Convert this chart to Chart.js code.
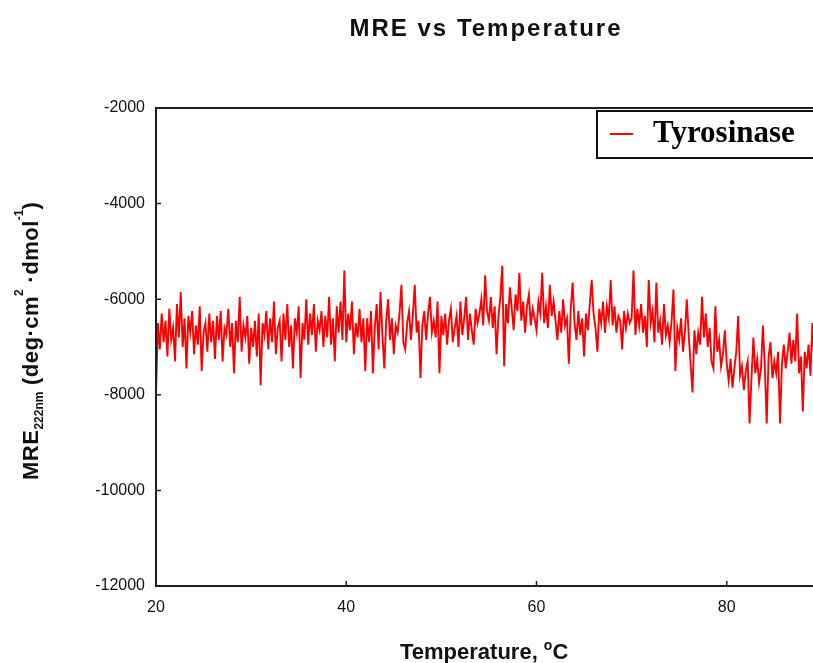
<!DOCTYPE html>
<html>
<head>
<meta charset="utf-8">
<title>MRE vs Temperature</title>
<script src="https://cdn.jsdelivr.net/npm/chart.js@4.4.1/dist/chart.umd.min.js"></script>
<style>
    html, body { margin: 0; padding: 0; background: #fff; overflow: hidden; }
    #wrap { width: 813px; height: 663px; overflow: hidden; }
</style>
</head>
<body>
<div id="wrap"><canvas id="chartMre" width="975" height="663"></canvas></div>
<script>
// Temperature scan, degrees C
var temperatures = [
    20, 20.2, 20.4, 20.6, 20.8, 21, 21.2, 21.4, 21.6, 21.8,
    22, 22.2, 22.4, 22.6, 22.8, 23, 23.2, 23.4, 23.6, 23.8,
    24, 24.2, 24.4, 24.6, 24.8, 25, 25.2, 25.4, 25.6, 25.8,
    26, 26.2, 26.4, 26.6, 26.8, 27, 27.2, 27.4, 27.6, 27.8,
    28, 28.2, 28.4, 28.6, 28.8, 29, 29.2, 29.4, 29.6, 29.8,
    30, 30.2, 30.4, 30.6, 30.8, 31, 31.2, 31.4, 31.6, 31.8,
    32, 32.2, 32.4, 32.6, 32.8, 33, 33.2, 33.4, 33.6, 33.8,
    34, 34.2, 34.4, 34.6, 34.8, 35, 35.2, 35.4, 35.6, 35.8,
    36, 36.2, 36.4, 36.6, 36.8, 37, 37.2, 37.4, 37.6, 37.8,
    38, 38.2, 38.4, 38.6, 38.8, 39, 39.2, 39.4, 39.6, 39.8,
    40, 40.2, 40.4, 40.6, 40.8, 41, 41.2, 41.4, 41.6, 41.8,
    42, 42.2, 42.4, 42.6, 42.8, 43, 43.2, 43.4, 43.6, 43.8,
    44, 44.2, 44.4, 44.6, 44.8, 45, 45.2, 45.4, 45.6, 45.8,
    46, 46.2, 46.4, 46.6, 46.8, 47, 47.2, 47.4, 47.6, 47.8,
    48, 48.2, 48.4, 48.6, 48.8, 49, 49.2, 49.4, 49.6, 49.8,
    50, 50.2, 50.4, 50.6, 50.8, 51, 51.2, 51.4, 51.6, 51.8,
    52, 52.2, 52.4, 52.6, 52.8, 53, 53.2, 53.4, 53.6, 53.8,
    54, 54.2, 54.4, 54.6, 54.8, 55, 55.2, 55.4, 55.6, 55.8,
    56, 56.2, 56.4, 56.6, 56.8, 57, 57.2, 57.4, 57.6, 57.8,
    58, 58.2, 58.4, 58.6, 58.8, 59, 59.2, 59.4, 59.6, 59.8,
    60, 60.2, 60.4, 60.6, 60.8, 61, 61.2, 61.4, 61.6, 61.8,
    62, 62.2, 62.4, 62.6, 62.8, 63, 63.2, 63.4, 63.6, 63.8,
    64, 64.2, 64.4, 64.6, 64.8, 65, 65.2, 65.4, 65.6, 65.8,
    66, 66.2, 66.4, 66.6, 66.8, 67, 67.2, 67.4, 67.6, 67.8,
    68, 68.2, 68.4, 68.6, 68.8, 69, 69.2, 69.4, 69.6, 69.8,
    70, 70.2, 70.4, 70.6, 70.8, 71, 71.2, 71.4, 71.6, 71.8,
    72, 72.2, 72.4, 72.6, 72.8, 73, 73.2, 73.4, 73.6, 73.8,
    74, 74.2, 74.4, 74.6, 74.8, 75, 75.2, 75.4, 75.6, 75.8,
    76, 76.2, 76.4, 76.6, 76.8, 77, 77.2, 77.4, 77.6, 77.8,
    78, 78.2, 78.4, 78.6, 78.8, 79, 79.2, 79.4, 79.6, 79.8,
    80, 80.2, 80.4, 80.6, 80.8, 81, 81.2, 81.4, 81.6, 81.8,
    82, 82.2, 82.4, 82.6, 82.8, 83, 83.2, 83.4, 83.6, 83.8,
    84, 84.2, 84.4, 84.6, 84.8, 85, 85.2, 85.4, 85.6, 85.8,
    86, 86.2, 86.4, 86.6, 86.8, 87, 87.2, 87.4, 87.6, 87.8,
    88, 88.2, 88.4, 88.6, 88.8, 89, 89.2, 89.4, 89.6, 89.8,
    90
];

// MRE at 222 nm (deg cm2 dmol-1)
var mreTyrosinase = [
    -7990, -6500, -7050, -6300, -6900, -6450, -7200, -6200, -6850, -6600,
    -7300, -6100, -6800, -5850, -7000, -6400, -7450, -6350, -6700, -6250,
    -7150, -6550, -6950, -6150, -7500, -6700, -6500, -7100, -6300, -6900,
    -6450, -7250, -6350, -6850, -6250, -7300, -6600, -6750, -6200, -7000,
    -6500, -7550, -6450, -6900, -5950, -7100, -6550, -6800, -6350, -7350,
    -6600, -7000, -6450, -7200, -6300, -7800, -6500, -6750, -6250, -7050,
    -6400, -6900, -6050, -7150, -6600, -6450, -7300, -6300, -6850, -6100,
    -7000, -6550, -7450, -6400, -6700, -6150, -7650, -6500, -6850, -6000,
    -6950, -6300, -6750, -6100, -7100, -6450, -6650, -6250, -7000, -6350,
    -6800, -5950, -6950, -6400, -7300, -6150, -6700, -6050, -6850, -5400,
    -6900, -6300, -6650, -6050, -7150, -6500, -6800, -6200, -6900, -6400,
    -7500, -6400, -6900, -6250, -7550, -6600, -6100, -7050, -5850, -6750,
    -7450, -6450, -6000, -6850, -6400, -7150, -6550, -6700, -6300, -5700,
    -6900, -7050, -6500, -6250, -6850, -6350, -5700, -6700, -6450, -7650,
    -6550, -6250, -6850, -6300, -5950, -6700, -6450, -6800, -6050, -7550,
    -6350, -6750, -6300, -6950, -6450, -6200, -6900, -6600, -6350, -7000,
    -6050, -6750, -6400, -5950, -6850, -6300, -6650, -6950, -6200, -6500,
    -6300, -6000, -6550, -5500, -6250, -6450, -5950, -6600, -6150, -7150,
    -6350, -5950, -5300, -7400, -6100, -6500, -5750, -6200, -6650, -5900,
    -6250, -5450, -6450, -6050, -6700, -6150, -5900, -6550, -6200, -6400,
    -6650, -6050, -6300, -5450, -6500, -6150, -6600, -5700, -6350, -6050,
    -6450, -6850, -6250, -6700, -6000, -6550, -6400, -7350, -6200, -5650,
    -6500, -6850, -6250, -6750, -6400, -7200, -6300, -6650, -6100, -5600,
    -6300, -6600, -7100, -6200, -6500, -6050, -6700, -6150, -6400, -5600,
    -6550, -6150, -6700, -6350, -6450, -7050, -6250, -6600, -6300, -6500,
    -6400, -5400, -6750, -6200, -6550, -6100, -6700, -6350, -7000, -5600,
    -6500, -6250, -6900, -5650, -6700, -6450, -6950, -6100, -6750, -6550,
    -6900, -6450, -5800, -7500, -6600, -6850, -6400, -7100, -6700, -6000,
    -6750, -7350, -7950, -6650, -7150, -6700, -6950, -5950, -6800, -6300,
    -7000, -6600, -7300, -7450, -6150, -7100, -6850, -7400, -7150, -6650,
    -7350, -7700, -7250, -7850, -7450, -7100, -6350, -7600, -7400, -7900,
    -7500, -7300, -8600, -7650, -6800, -7550, -7250, -7750, -7450, -6550,
    -7400, -8600, -7200, -6900, -7650, -7300, -7550, -7100, -8600, -7350,
    -6950, -7450, -7100, -6700, -7350, -6850, -7300, -6300, -7550, -7200,
    -8350, -7100, -7450, -6950, -7600, -6500, -7250, -7500, -6900, -7300,
    -7100
];

var seriesLabel = 'Tyrosinase';
var xTicks = [20, 40, 60, 80, 100];
var yTicks = [-12000, -10000, -8000, -6000, -4000, -2000];

var sansFont = '"Liberation Sans", Arial, sans-serif';

// draws a run of text pieces one after another (for sub/superscripts)
function drawPieces(ctx, pieces, x, y) {
    pieces.forEach(function (p) {
        ctx.font = p.font;
        ctx.letterSpacing = p.spacing || '0px';
        ctx.fillText(p.text, x, y + (p.dy || 0));
        x += ctx.measureText(p.text).width;
    });
    ctx.letterSpacing = '0px';
    return x;
}

var extras = {
    id: 'extras',
    afterDraw: function (chart) {
        var ctx = chart.ctx;
        var area = chart.chartArea;
        var sx = chart.scales.x;
        var sy = chart.scales.y;
        ctx.save();

        // frame round the plot
        ctx.strokeStyle = '#1e1e1e';
        ctx.lineWidth = 2;
        ctx.strokeRect(area.left, area.top, area.right - area.left, area.bottom - area.top);

        // tick marks pointing inwards
        ctx.lineWidth = 1.5;
        ctx.beginPath();
        sx.ticks.forEach(function (t) {
            var px = sx.getPixelForValue(t.value);
            ctx.moveTo(px, area.bottom);
            ctx.lineTo(px, area.bottom - 5);
        });
        sy.ticks.forEach(function (t) {
            var py = sy.getPixelForValue(t.value);
            ctx.moveTo(area.left, py);
            ctx.lineTo(area.left + 5, py);
        });
        ctx.stroke();

        ctx.fillStyle = '#111';
        ctx.textBaseline = 'alphabetic';
        ctx.textAlign = 'left';

        // title
        ctx.font = 'bold 24px ' + sansFont;
        ctx.letterSpacing = '2px';
        var title = 'MRE vs Temperature';
        var w = ctx.measureText(title).width;
        ctx.fillText(title, 486 - w / 2, 36);
        ctx.letterSpacing = '0px';

        // x axis title
        drawPieces(ctx, [
            { text: 'Temperature, ', font: 'bold 22px ' + sansFont },
            { text: 'o', font: 'bold 14px ' + sansFont, dy: -9 },
            { text: 'C', font: 'bold 22px ' + sansFont }
        ], 400, 659);

        // y axis title, rotated
        ctx.save();
        ctx.translate(38, 480);
        ctx.rotate(-Math.PI / 2);
        drawPieces(ctx, [
            { text: 'MRE', font: 'bold 22px ' + sansFont, spacing: '0.5px' },
            { text: '222nm', font: 'bold 12px ' + sansFont, dy: 5 },
            { text: ' (deg\u00b7cm', font: 'bold 22px ' + sansFont, spacing: '0.5px' },
            { text: '2', font: 'bold 12px ' + sansFont, dy: -15 },
            { text: ' \u00b7dmol', font: 'bold 22px ' + sansFont, spacing: '0.5px' },
            { text: '-1', font: 'bold 12px ' + sansFont, dy: -15 },
            { text: ')', font: 'bold 22px ' + sansFont }
        ], 0, 0);
        ctx.restore();

        // legend box
        ctx.fillStyle = '#fff';
        ctx.fillRect(597, 111, 225, 47);
        ctx.strokeStyle = '#111';
        ctx.lineWidth = 2;
        ctx.strokeRect(597, 111, 225, 47);
        ctx.strokeStyle = chart.data.datasets[0].borderColor;
        ctx.beginPath();
        ctx.moveTo(610, 134);
        ctx.lineTo(633, 134);
        ctx.stroke();
        ctx.fillStyle = '#000';
        ctx.font = 'bold 31px "Liberation Serif", "Times New Roman", serif';
        ctx.fillText(chart.data.datasets[0].label, 653, 142);

        ctx.restore();
    }
};

var points = temperatures.map(function (t, i) {
    return { x: t, y: mreTyrosinase[i] };
});

var config = {
    type: 'line',
    data: {
        datasets: [
            {
                label: seriesLabel,
                data: points,
                borderColor: '#ff0000',
                borderWidth: 1.9,
                pointRadius: 0,
                tension: 0,
                fill: false
            }
        ]
    },
    options: {
        responsive: false,
        animation: false,
        devicePixelRatio: 1,
        layout: { padding: { left: 0, top: 108, right: 58, bottom: 0 } },
        plugins: {
            legend: { display: false },
            title: { display: false },
            tooltip: { enabled: false }
        },
        scales: {
            x: {
                type: 'linear',
                min: xTicks[0],
                max: xTicks[xTicks.length - 1],
                afterFit: function (s) { s.height = 77; },
                afterBuildTicks: function (s) { s.ticks = xTicks.map(function (v) { return { value: v }; }); },
                ticks: {
                    padding: 12,
                    color: '#111',
                    maxRotation: 0,
                    autoSkip: false,
                    font: { family: sansFont, size: 16 },
                    callback: function (v) { return String(v); }
                },
                grid: { display: false, drawTicks: false },
                border: { display: false }
            },
            y: {
                type: 'linear',
                min: yTicks[0],
                max: yTicks[yTicks.length - 1],
                afterFit: function (s) { s.width = 156; },
                afterBuildTicks: function (s) { s.ticks = yTicks.map(function (v) { return { value: v }; }); },
                ticks: {
                    padding: 11,
                    color: '#111',
                    font: { family: sansFont, size: 16 },
                    callback: function (v) { return String(v); }
                },
                grid: { display: false, drawTicks: false },
                border: { display: false }
            }
        }
    },
    plugins: [extras]
};

var myChart = new Chart(document.getElementById('chartMre'), config);
</script>
</body>
</html>
